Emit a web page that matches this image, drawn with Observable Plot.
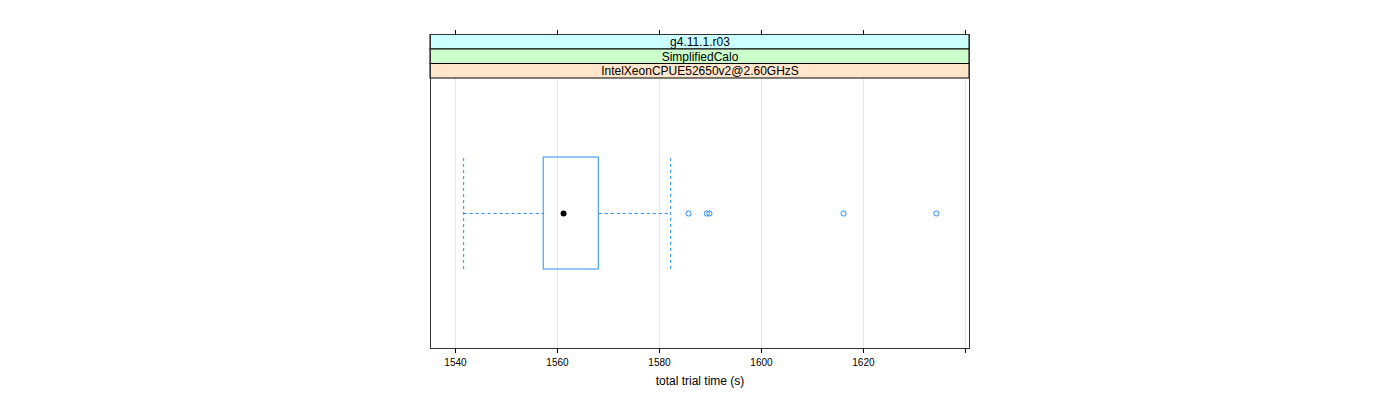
<!DOCTYPE html>
<html>
<head>
<meta charset="utf-8">
<script src="https://cdn.jsdelivr.net/npm/d3@7"></script>
<script src="https://cdn.jsdelivr.net/npm/@observablehq/plot@0.6"></script>
<style>
  html, body { margin: 0; padding: 0; background: #fff; }
  svg { font-family: "Liberation Sans", Arial, Helvetica, sans-serif; }
</style>
</head>
<body>
<div id="chart"></div>
<script>
// Strip labels (top to bottom) and their lattice background colours
const strips = ["g4.11.1.r03", "SimplifiedCalo", "IntelXeonCPUE52650v2@2.60GHzS"];
const stripColors = ["#ccffff", "#ccffcc", "#ffe5cc"];

// Box-and-whisker summary of total trial time (s)
const whiskerLow = 1541.6;
const q1 = 1557.3;
const median = 1561.2;
const q3 = 1568.1;
const whiskerHigh = 1582.2;
const outliers = [1585.7, 1589.3, 1589.8, 1616.1, 1634.3];

// Axis ticks
const ticks = [1540, 1560, 1580, 1600, 1620, 1640];
const tickLabels = ["1540", "1560", "1580", "1600", "1620", ""];
const xLabel = "total trial time (s)";

const xDomain = [1535.1, 1640.8];
const boxHalf = 0.2074;        // half box height, in panel units
const stripH = 14.5 / 270;     // one strip, in panel units
const col = "#2b8cff";

const stripRows = strips.map((s, i) => ({
  label: s, fill: stripColors[i],
  y1: 1 + (strips.length - 1 - i) * stripH,
  y2: 1 + (strips.length - i) * stripH
}));

const chart = Plot.plot({
  width: 1400,
  height: 400,
  marginLeft: 430,
  marginRight: 431,
  marginTop: 34,
  marginBottom: 52,
  x: { domain: xDomain },
  y: { domain: [0, 1], range: [348, 78], axis: null },
  style: { fontFamily: "Liberation Sans, Arial, Helvetica, sans-serif", background: "#fff" },
  marks: [
    Plot.ruleX(ticks, { stroke: "#e6e6e6", y1: 0, y2: 1 }),
    // whiskers (dashed)
    Plot.link([{ a: whiskerLow, b: q1 }, { a: q3, b: whiskerHigh }],
      { x1: "a", x2: "b", y1: 0.5, y2: 0.5, stroke: col, strokeDasharray: "3,3" }),
    Plot.ruleX([whiskerLow, whiskerHigh], { y1: 0.5 - boxHalf, y2: 0.5 + boxHalf, stroke: col, strokeDasharray: "3,3" }),
    // box
    Plot.rect([{ x1: q1, x2: q3 }], { x1: "x1", x2: "x2", y1: 0.5 - boxHalf, y2: 0.5 + boxHalf, fill: "none", stroke: col }),
    // median dot
    Plot.dot([median], { x: d => d, y: 0.5, r: 3, fill: "black", stroke: "none" }),
    // outliers
    Plot.dot(outliers, { x: d => d, y: 0.5, r: 2.6, fill: "none", stroke: col, strokeWidth: 1 }),
    // strips
    Plot.rect(stripRows, { x1: xDomain[0], x2: xDomain[1], y1: "y1", y2: "y2", fill: "fill", stroke: "#000", strokeWidth: 1 }),
    Plot.text(stripRows, { x: (xDomain[0] + xDomain[1]) / 2, y: d => (d.y1 + d.y2) / 2, text: "label", fontSize: 12, fill: "#000" }),
    Plot.frame({ stroke: "#333" }),
    // axes
    Plot.axisX({ anchor: "bottom", ticks, tickSize: 5, tickPadding: 5, fontSize: 10,
      tickFormat: d => tickLabels[ticks.indexOf(d)], label: null, stroke: "#000", color: "#000" }),
    Plot.axisX({ anchor: "top", ticks, tickSize: 5, tickFormat: () => "", label: null, stroke: "#000" }),
    Plot.text([xLabel], { frameAnchor: "bottom", dy: 36, text: d => d, fontSize: 12, fill: "#000" })
  ]
});
document.getElementById("chart").appendChild(chart);
</script>
</body>
</html>
